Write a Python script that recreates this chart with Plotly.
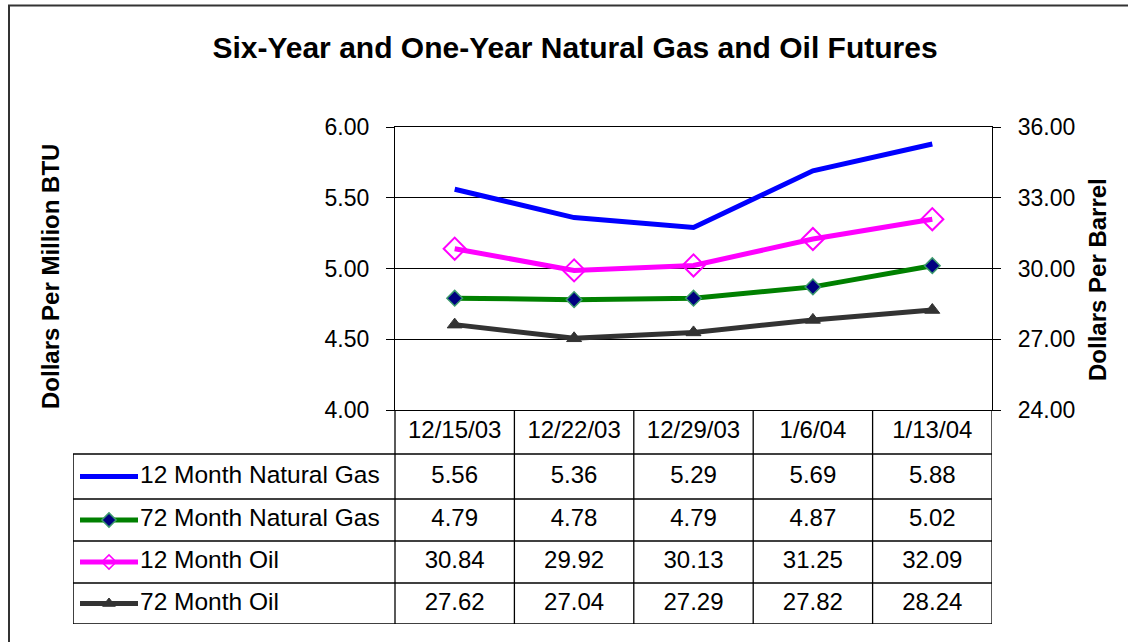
import plotly.graph_objects as go

# ---------------- data ----------------
dates = ["12/15/03", "12/22/03", "12/29/03", "1/6/04", "1/13/04"]
gas_12 = [5.56, 5.36, 5.29, 5.69, 5.88]
gas_72 = [4.79, 4.78, 4.79, 4.87, 5.02]
oil_12 = [30.84, 29.92, 30.13, 31.25, 32.09]
oil_72 = [27.62, 27.04, 27.29, 27.82, 28.24]
series_names = ["12 Month Natural Gas", "72 Month Natural Gas", "12 Month Oil", "72 Month Oil"]
left_ticks = [4.0, 4.5, 5.0, 5.5, 6.0]
right_ticks = [24.0, 27.0, 30.0, 33.0, 36.0]
title_text = "Six-Year and One-Year Natural Gas and Oil Futures"
left_title = "Dollars Per Million BTU"
right_title = "Dollars Per Barrel"

# ---------------- layout helpers ----------------
W, H = 1128, 642
FONT = "Liberation Sans, Arial, sans-serif"


def fx(p):
    return p / W


def fy(p):
    return 1 - p / H


PL, PR, PT, PB = 395, 992, 127, 410      # plot area in px
TL, TB = 73, 624                          # table left / bottom in px
cw = (PR - PL) / 5.0                      # category width


def cx(p):
    """px -> category units of the table axis"""
    return -0.5 + (p - PL) / cw


row_lines = [0, 44, 89, 131, 173, 214]     # px offsets below plot bottom
row_centers = [(row_lines[i] + row_lines[i + 1]) / 2 for i in range(5)]

series_vals = [gas_12, gas_72, oil_12, oil_72]
styles = [
    dict(color="#0000FF", axis="y", marker=None, key=None),
    dict(color="#008000", axis="y",
         marker=dict(symbol="diamond", size=12, color="#000080",
                     line=dict(color="#3C9A6E", width=1.5)),
         key=dict(symbol="diamond", size=11, color="#000080",
                  line=dict(color="#3C9A6E", width=1.5))),
    dict(color="#FF00FF", axis="y2",
         marker=dict(symbol="diamond-open", size=17, color="#FF00FF",
                     line=dict(color="#FF00FF", width=2)),
         key=dict(symbol="diamond-open", size=11, color="#FF00FF",
                  line=dict(color="#FF00FF", width=1.5))),
    dict(color="#333333", axis="y2",
         marker=dict(symbol="triangle-up", size=13, color="#333333",
                     line=dict(color="#333333", width=1)),
         key=dict(symbol="triangle-up", size=11, color="#333333",
                  line=dict(color="#333333", width=1))),
]

fig = go.Figure()

# main lines
for name, vals, st in zip(series_names, series_vals, styles):
    kw = dict(x=dates, y=vals, name=name, xaxis="x", yaxis=st["axis"],
              line=dict(color=st["color"], width=5), showlegend=False,
              cliponaxis=False)
    if st["marker"] is None:
        fig.add_trace(go.Scatter(mode="lines", **kw))
    else:
        fig.add_trace(go.Scatter(mode="lines+markers", marker=st["marker"], **kw))

# table: header dates
fig.add_trace(go.Scatter(
    x=list(range(len(dates))), y=[row_centers[0]] * len(dates), text=dates,
    mode="text", textposition="middle center", xaxis="x3", yaxis="y3",
    textfont=dict(family=FONT, size=24, color="black"), showlegend=False,
    hoverinfo="skip"))

# table: rows
kx0, kx1, kxm = cx(80), cx(138), cx(109)
for i, (name, vals, st) in enumerate(zip(series_names, series_vals, styles)):
    rc = row_centers[i + 1]
    # key line
    fig.add_trace(go.Scatter(
        x=[kx0, kx1], y=[rc, rc], mode="lines", xaxis="x3", yaxis="y3",
        line=dict(color=st["color"], width=5), showlegend=False, hoverinfo="skip",
        cliponaxis=False))
    if st["key"] is not None:
        fig.add_trace(go.Scatter(
            x=[kxm], y=[rc], mode="markers", xaxis="x3", yaxis="y3",
            marker=st["key"], showlegend=False, hoverinfo="skip",
            cliponaxis=False))
    # label
    fig.add_trace(go.Scatter(
        x=[cx(140)], y=[rc], text=[name], mode="text", textposition="middle right",
        xaxis="x3", yaxis="y3", textfont=dict(family=FONT, size=24.5, color="black"),
        showlegend=False, hoverinfo="skip", cliponaxis=False))
    # values
    fig.add_trace(go.Scatter(
        x=list(range(len(vals))), y=[rc] * len(vals),
        text=["{:.2f}".format(v) for v in vals], mode="text",
        textposition="middle center", xaxis="x3", yaxis="y3",
        textfont=dict(family=FONT, size=24, color="black"),
        showlegend=False, hoverinfo="skip", cliponaxis=False))

# table grid lines
shapes = []
x_left = cx(TL)
for j, r in enumerate(row_lines):
    x0 = -0.5 if j == 0 else x_left
    shapes.append(dict(type="line", xref="x3", yref="y3", x0=x0, x1=4.5, y0=r, y1=r,
                       line=dict(color="black", width=1.3)))
for k in range(6):
    shapes.append(dict(type="line", xref="x3", yref="y3", x0=-0.5 + k, x1=-0.5 + k,
                       y0=0, y1=row_lines[-1], line=dict(color="black", width=1.3)))
shapes.append(dict(type="line", xref="x3", yref="y3", x0=x_left, x1=x_left,
                   y0=row_lines[1], y1=row_lines[-1], line=dict(color="black", width=1.5)))
# outer chart border (extends past right/bottom edge like the reference)
shapes.append(dict(type="rect", xref="paper", yref="paper", x0=fx(9), x1=1.2,
                   y0=-0.2, y1=fy(5.5), line=dict(color="#333333", width=2),
                   layer="below"))

annotations = [
    dict(text=left_title, xref="paper", yref="paper", x=fx(50), y=fy(277),
         textangle=-90, showarrow=False, xanchor="center", yanchor="middle",
         font=dict(family=FONT, size=24, color="black", weight="bold")),
    dict(text=right_title, xref="paper", yref="paper", x=fx(1097), y=fy(280),
         textangle=-90, showarrow=False, xanchor="center", yanchor="middle",
         font=dict(family=FONT, size=24, color="black", weight="bold")),
]

fig.update_layout(
    template="none",
    width=W, height=H, autosize=False,
    margin=dict(l=0, r=0, t=0, b=0, pad=0, autoexpand=False),
    paper_bgcolor="white", plot_bgcolor="white",
    showlegend=False,
    title=dict(text="<b>" + title_text + "</b>", x=fx(575), y=fy(47),
               xanchor="center", yanchor="middle", xref="paper", yref="paper",
               automargin=False,
               font=dict(family=FONT, size=30, color="black")),
    xaxis=dict(domain=[fx(PL), fx(PR)], type="category", range=[-0.5, 4.5],
               showticklabels=False, ticks="", showgrid=False, zeroline=False,
               showline=True, mirror=True, linecolor="black", linewidth=1.3,
               anchor="y", automargin=False),
    yaxis=dict(domain=[fy(PB), fy(PT)], range=[4, 6], tickvals=left_ticks,
               tickformat=".2f", ticks="outside", ticklen=8, tickcolor="black",
               showline=True, linecolor="black", linewidth=1.3,
               showgrid=True, gridcolor="black", gridwidth=1, zeroline=False,
               tickfont=dict(family=FONT, size=23, color="black"),
               ticklabelstandoff=12, anchor="x", automargin=False),
    yaxis2=dict(overlaying="y", side="right", range=[24, 36], tickvals=right_ticks,
                tickformat=".2f", ticks="outside", ticklen=8, tickcolor="black",
                showline=True, linecolor="black", linewidth=1.3, showgrid=False,
                zeroline=False, tickfont=dict(family=FONT, size=23, color="black"),
                ticklabelstandoff=12, anchor="x", automargin=False),
    xaxis3=dict(domain=[fx(TL), fx(PR)], range=[x_left, 4.5], visible=False,
                anchor="y3", automargin=False),
    yaxis3=dict(domain=[fy(TB), fy(PB)], range=[row_lines[-1], 0], visible=False,
                anchor="x3", automargin=False),
    shapes=shapes,
    annotations=annotations,
)

fig.write_html("out.html",
               config={"displayModeBar": False},
               post_script="document.body.style.margin='0px';document.body.style.overflow='hidden';")
